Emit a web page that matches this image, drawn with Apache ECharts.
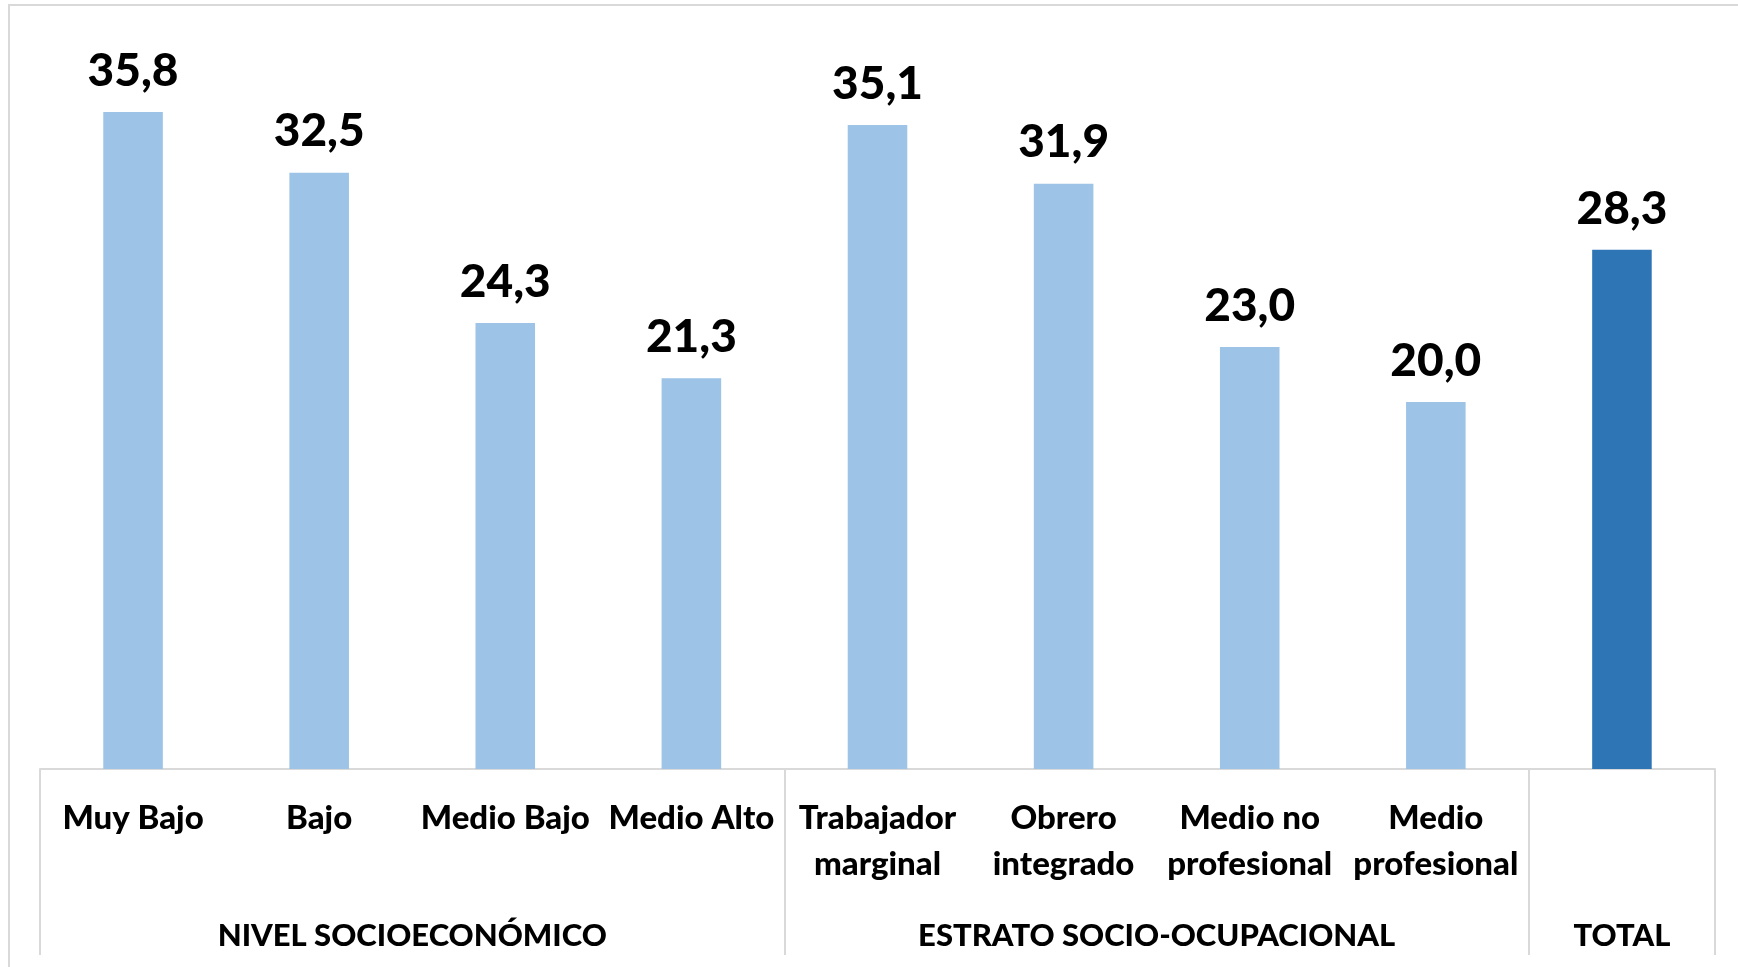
<!DOCTYPE html>
<html>
<head>
<meta charset="utf-8">
<script src="https://cdn.jsdelivr.net/npm/echarts@6/dist/echarts.min.js"></script>
<style>
    html, body { margin: 0; padding: 0; background: #fff; }
    #main { width: 1738px; height: 967px; }
</style>
</head>
<body>
<div id="main"></div>
<script>
// categorías y valores
var categorias = ['Muy Bajo', 'Bajo', 'Medio Bajo', 'Medio Alto',
    'Trabajador\nmarginal', 'Obrero\nintegrado', 'Medio no\nprofesional', 'Medio\nprofesional', ''];
var valores = [35.8, 32.5, 24.3, 21.3, 35.1, 31.9, 23.0, 20.0, 28.3];
// grupos y cuántas categorías abarca cada uno
var grupos = ['NIVEL SOCIOECONÓMICO', 'ESTRATO SOCIO-OCUPACIONAL', 'TOTAL'];
var gruposCantidad = [4, 4, 1];

var colorClaro = '#9DC3E6';
var colorTotal = '#2E75B6';
var fuente = 'Lato';
var peso = 900;

// límites y centros de cada grupo (en unidades de categoría)
var limites = [0];
var centros = [];
for (var i = 0; i < gruposCantidad.length; i++) {
    var ini = limites[limites.length - 1];
    centros.push(ini + gruposCantidad[i] / 2);
    limites.push(ini + gruposCantidad[i]);
}

var datos = valores.map(function (v, i) {
    return {
        value: v,
        itemStyle: { color: i === valores.length - 1 ? colorTotal : colorClaro }
    };
});

var myChart = echarts.init(document.getElementById('main'));

var option = {
    animation: false,
    graphic: [{
        type: 'rect',
        shape: { x: 9, y: 5, width: 2000, height: 2000 },
        style: { fill: 'none', stroke: '#d9d9d9', lineWidth: 2 },
        silent: true
    }],
    grid: {
        left: 40,
        right: 23,
        top: 35,
        bottom: 198
    },
    xAxis: [
        {
            type: 'category',
            data: categorias,
            axisLine: { show: true, lineStyle: { color: '#d9d9d9', width: 2 } },
            axisTick: { show: false },
            axisLabel: {
                interval: 0,
                hideOverlap: false,
                margin: 26,
                color: '#000',
                fontFamily: fuente,
                fontWeight: peso,
                fontSize: 33,
                lineHeight: 46
            }
        },
        {
            // eje auxiliar para separadores y nombres de grupo
            type: 'value',
            position: 'bottom',
            min: 0,
            max: categorias.length,
            axisLine: { show: false },
            splitLine: { show: false },
            axisTick: {
                show: true,
                customValues: limites,
                length: 186,
                lineStyle: { color: '#d9d9d9', width: 2 }
            },
            axisLabel: {
                customValues: centros,
                margin: 151,
                color: '#000',
                fontFamily: fuente,
                fontWeight: peso,
                fontSize: 31,
                formatter: function (v) {
                    var idx = centros.indexOf(v);
                    return idx >= 0 ? grupos[idx] : '';
                }
            }
        }
    ],
    yAxis: {
        type: 'value',
        min: 0,
        max: 40,
        show: false
    },
    series: [
        {
            type: 'bar',
            barWidth: '32%',
            data: datos,
            label: {
                show: true,
                position: 'top',
                distance: 18,
                color: '#000',
                fontFamily: fuente,
                fontWeight: peso,
                fontSize: 46,
                formatter: function (p) {
                    return p.value.toFixed(1).replace('.', ',');
                }
            }
        }
    ]
};

myChart.setOption(option);
</script>
</body>
</html>
